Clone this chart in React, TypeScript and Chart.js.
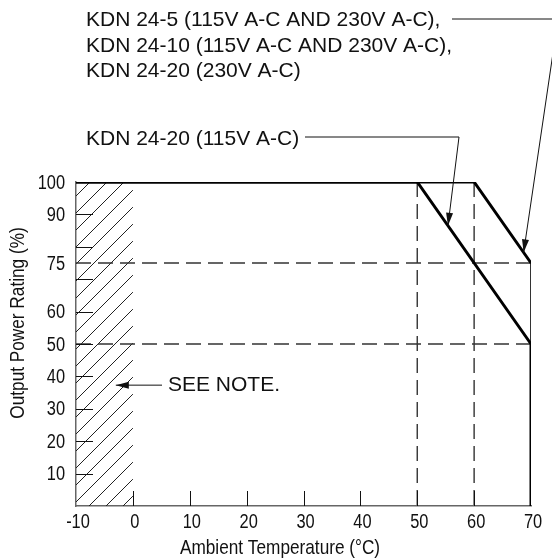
import React, { useEffect, useRef } from "react";
import { Chart, registerables } from "chart.js";

Chart.register(...registerables);

// ---------- data ----------
const xTicks = [-10, 0, 10, 20, 30, 40, 50, 60, 70];
const xTickMarks = [0, 10, 20, 30, 40, 50, 60];
const yTickLabels = [10, 20, 30, 40, 50, 60, 75, 90, 100];
const yTickMarks = [10, 20, 30, 40, 50, 60, 70, 80, 90];

// KDN 24-5 / 24-10 (115V & 230V), KDN 24-20 (230V)
const curveATemps = [-10, 60, 70, 70];
const curveAPower = [100, 100, 75, 50];
// KDN 24-20 (115V)
const curveBTemps = [-10, 50, 70, 70];
const curveBPower = [100, 100, 50, 0];

const refPowerLevels = [75, 50];
const refTemps = [50, 60];
const hatchTemps = [-10, 0];
const hatchPower = [100, 100];

const labelA = [
  "KDN 24-5 (115V A-C AND 230V A-C),",
  "KDN 24-10 (115V A-C AND 230V A-C),",
  "KDN 24-20 (230V A-C)",
];
const labelB = "KDN 24-20 (115V A-C)";
const noteLabel = "SEE NOTE.";
const xTitle = "Ambient Temperature (°C)";
const yTitle = "Output Power Rating (%)";

// arrow targets (temperature on each curve)
const arrowATemp = 68.7;
const arrowBTemp = 55.4;
const arrowNote = { x: -3, y: 37.3 };

const SANS = '"Liberation Sans", Arial, Helvetica, sans-serif';
const NARROW_SCALE = 0.82;

function interp(xs: number[], ys: number[], t: number): number {
  for (let i = 0; i < xs.length - 1; i++) {
    if (t >= xs[i] && t <= xs[i + 1] && xs[i + 1] !== xs[i]) {
      return ys[i] + ((t - xs[i]) / (xs[i + 1] - xs[i])) * (ys[i + 1] - ys[i]);
    }
  }
  return ys[0];
}

function toPts(xs: number[], ys: number[]) {
  return xs.map((x, i) => ({ x, y: ys[i] }));
}

function makeHatch(): CanvasPattern | string {
  const c = document.createElement("canvas");
  const s = 17;
  c.width = s;
  c.height = s;
  const g = c.getContext("2d");
  if (!g) return "rgba(0,0,0,0)";
  g.strokeStyle = "#222";
  g.lineWidth = 1;
  g.beginPath();
  g.moveTo(-2, s + 2);
  g.lineTo(s + 2, -2);
  g.stroke();
  const p = g.createPattern(c, "repeat");
  return p || "rgba(0,0,0,0)";
}

function arrow(ctx: CanvasRenderingContext2D, pts: number[][]) {
  ctx.beginPath();
  ctx.moveTo(pts[0][0], pts[0][1]);
  for (let i = 1; i < pts.length; i++) ctx.lineTo(pts[i][0], pts[i][1]);
  ctx.stroke();
  const [fx, fy] = pts[pts.length - 2];
  const [tx, ty] = pts[pts.length - 1];
  const a = Math.atan2(ty - fy, tx - fx);
  const L = 13;
  const W = 3.5;
  ctx.beginPath();
  ctx.moveTo(tx, ty);
  ctx.lineTo(tx - L * Math.cos(a) + W * Math.sin(a), ty - L * Math.sin(a) - W * Math.cos(a));
  ctx.lineTo(tx - L * Math.cos(a) - W * Math.sin(a), ty - L * Math.sin(a) + W * Math.cos(a));
  ctx.closePath();
  ctx.fill();
}

function narrowText(
  ctx: CanvasRenderingContext2D,
  text: string,
  x: number,
  y: number,
  align: CanvasTextAlign,
  size: number,
  rot = 0
) {
  ctx.save();
  ctx.translate(x, y);
  if (rot) ctx.rotate(rot);
  ctx.scale(NARROW_SCALE, 1);
  ctx.font = `${size}px ${SANS}`;
  ctx.textAlign = align;
  ctx.textBaseline = "middle";
  ctx.fillText(text, 0, 0);
  ctx.restore();
}

const annotationPlugin = {
  id: "annotations",
  afterDraw(chart: any) {
    const { ctx, chartArea } = chart;
    const xs = chart.scales.x;
    const ys = chart.scales.y;
    ctx.save();
    // inward tick marks
    ctx.strokeStyle = "#111";
    ctx.lineWidth = 1;
    yTickMarks.forEach((v) => {
      const py = Math.round(ys.getPixelForValue(v)) + 0.5;
      ctx.beginPath();
      ctx.moveTo(chartArea.left, py);
      ctx.lineTo(chartArea.left + 17, py);
      ctx.stroke();
    });
    xTickMarks.forEach((v) => {
      const px = Math.round(xs.getPixelForValue(v)) + 0.5;
      ctx.beginPath();
      ctx.moveTo(px, chartArea.bottom);
      ctx.lineTo(px, chartArea.bottom - 15);
      ctx.stroke();
    });

    // tick labels (condensed)
    ctx.fillStyle = "#111";
    ys.ticks.forEach((t: any) => {
      narrowText(ctx, String(t.value), chartArea.left - 11, ys.getPixelForValue(t.value) + 1, "right", 20);
    });
    xs.ticks.forEach((t: any) => {
      narrowText(ctx, String(t.value), xs.getPixelForValue(t.value) + 2, chartArea.bottom + 16, "center", 20);
    });

    // texts
    ctx.textAlign = "left";
    ctx.textBaseline = "alphabetic";
    ctx.font = `21px ${SANS}`;
    labelA.forEach((t, i) => ctx.fillText(t, 86, 26 + i * 25.5));
    ctx.fillText(labelB, 86, 145);
    ctx.textBaseline = "middle";
    ctx.fillText(noteLabel, 168, 385);

    // leader lines
    ctx.lineWidth = 1;
    ctx.strokeStyle = "#111";
    const aTip = [xs.getPixelForValue(arrowATemp), ys.getPixelForValue(interp(curveATemps, curveAPower, arrowATemp))];
    arrow(ctx, [[452, 19], [558, 19], aTip]);
    const bTip = [xs.getPixelForValue(arrowBTemp), ys.getPixelForValue(interp(curveBTemps, curveBPower, arrowBTemp))];
    arrow(ctx, [[305, 137], [459, 137], bTip]);
    const nTip = [xs.getPixelForValue(arrowNote.x), ys.getPixelForValue(arrowNote.y)];
    arrow(ctx, [[162, nTip[1]], nTip]);

    // axis titles
    narrowText(ctx, xTitle, 280, 548, "center", 21);
    narrowText(ctx, yTitle, 18, 323, "center", 21, -Math.PI / 2);
    ctx.restore();
  },
};

export default function App() {
  const ref = useRef<HTMLCanvasElement | null>(null);

  useEffect(() => {
    document.body.style.margin = "0";
    const canvas = ref.current;
    if (!canvas) return;
    const dashed = (pts: { x: number; y: number }[]) => ({
      data: pts,
      borderColor: "#333",
      borderWidth: 1.4,
      borderDash: [15, 7],
      pointRadius: 0,
      fill: false,
      order: 1,
    });
    const chart = new Chart(canvas, {
      type: "line",
      data: {
        datasets: [
          {
            data: toPts(curveATemps, curveAPower),
            borderColor: "#000",
            borderWidth: 3,
            pointRadius: 0,
            fill: false,
            order: 0,
            segment: {
              borderWidth: (c: any) => (c.p0DataIndex === 2 ? 1.6 : 3),
            },
          } as any,
          {
            data: toPts(curveBTemps, curveBPower),
            borderColor: "#000",
            borderWidth: 3,
            pointRadius: 0,
            fill: false,
            order: 0,
          },
          ...refPowerLevels.map((p) => dashed([{ x: xTicks[0], y: p }, { x: xTicks[xTicks.length - 1], y: p }])),
          ...refTemps.map((t) => dashed([{ x: t, y: 100 }, { x: t, y: 0 }])),
          {
            data: toPts(hatchTemps, hatchPower),
            borderWidth: 0,
            borderColor: "rgba(0,0,0,0)",
            backgroundColor: makeHatch() as any,
            pointRadius: 0,
            fill: "origin",
            order: 2,
          },
        ],
      },
      options: {
        animation: false,
        responsive: true,
        maintainAspectRatio: false,
        layout: { padding: { left: 0, right: 21, top: 182, bottom: 0 } },
        plugins: { legend: { display: false }, tooltip: { enabled: false } },
        elements: { line: { tension: 0, borderJoinStyle: "miter", borderCapStyle: "butt" } },
        scales: {
          x: {
            type: "linear",
            min: -10,
            max: 70,
            grid: { display: false, drawTicks: false },
            border: { display: true, color: "#666", width: 1.5 },
            afterBuildTicks: (s: any) => {
              s.ticks = xTicks.map((v) => ({ value: v }));
            },
            afterFit: (s: any) => {
              s.height = 54;
            },
            ticks: { display: false, autoSkip: false },
          },
          y: {
            type: "linear",
            min: 0,
            max: 100,
            grid: { display: false, drawTicks: false },
            border: { display: true, color: "#666", width: 1.5 },
            afterBuildTicks: (s: any) => {
              s.ticks = yTickLabels.map((v) => ({ value: v }));
            },
            afterFit: (s: any) => {
              s.width = 76;
            },
            ticks: { display: false, autoSkip: false },
          },
        },
      },
      plugins: [annotationPlugin],
    });
    return () => chart.destroy();
  }, []);

  return (
    <div style={{ width: 552, height: 560, position: "relative", background: "#fff" }}>
      <canvas ref={ref} />
    </div>
  );
}
